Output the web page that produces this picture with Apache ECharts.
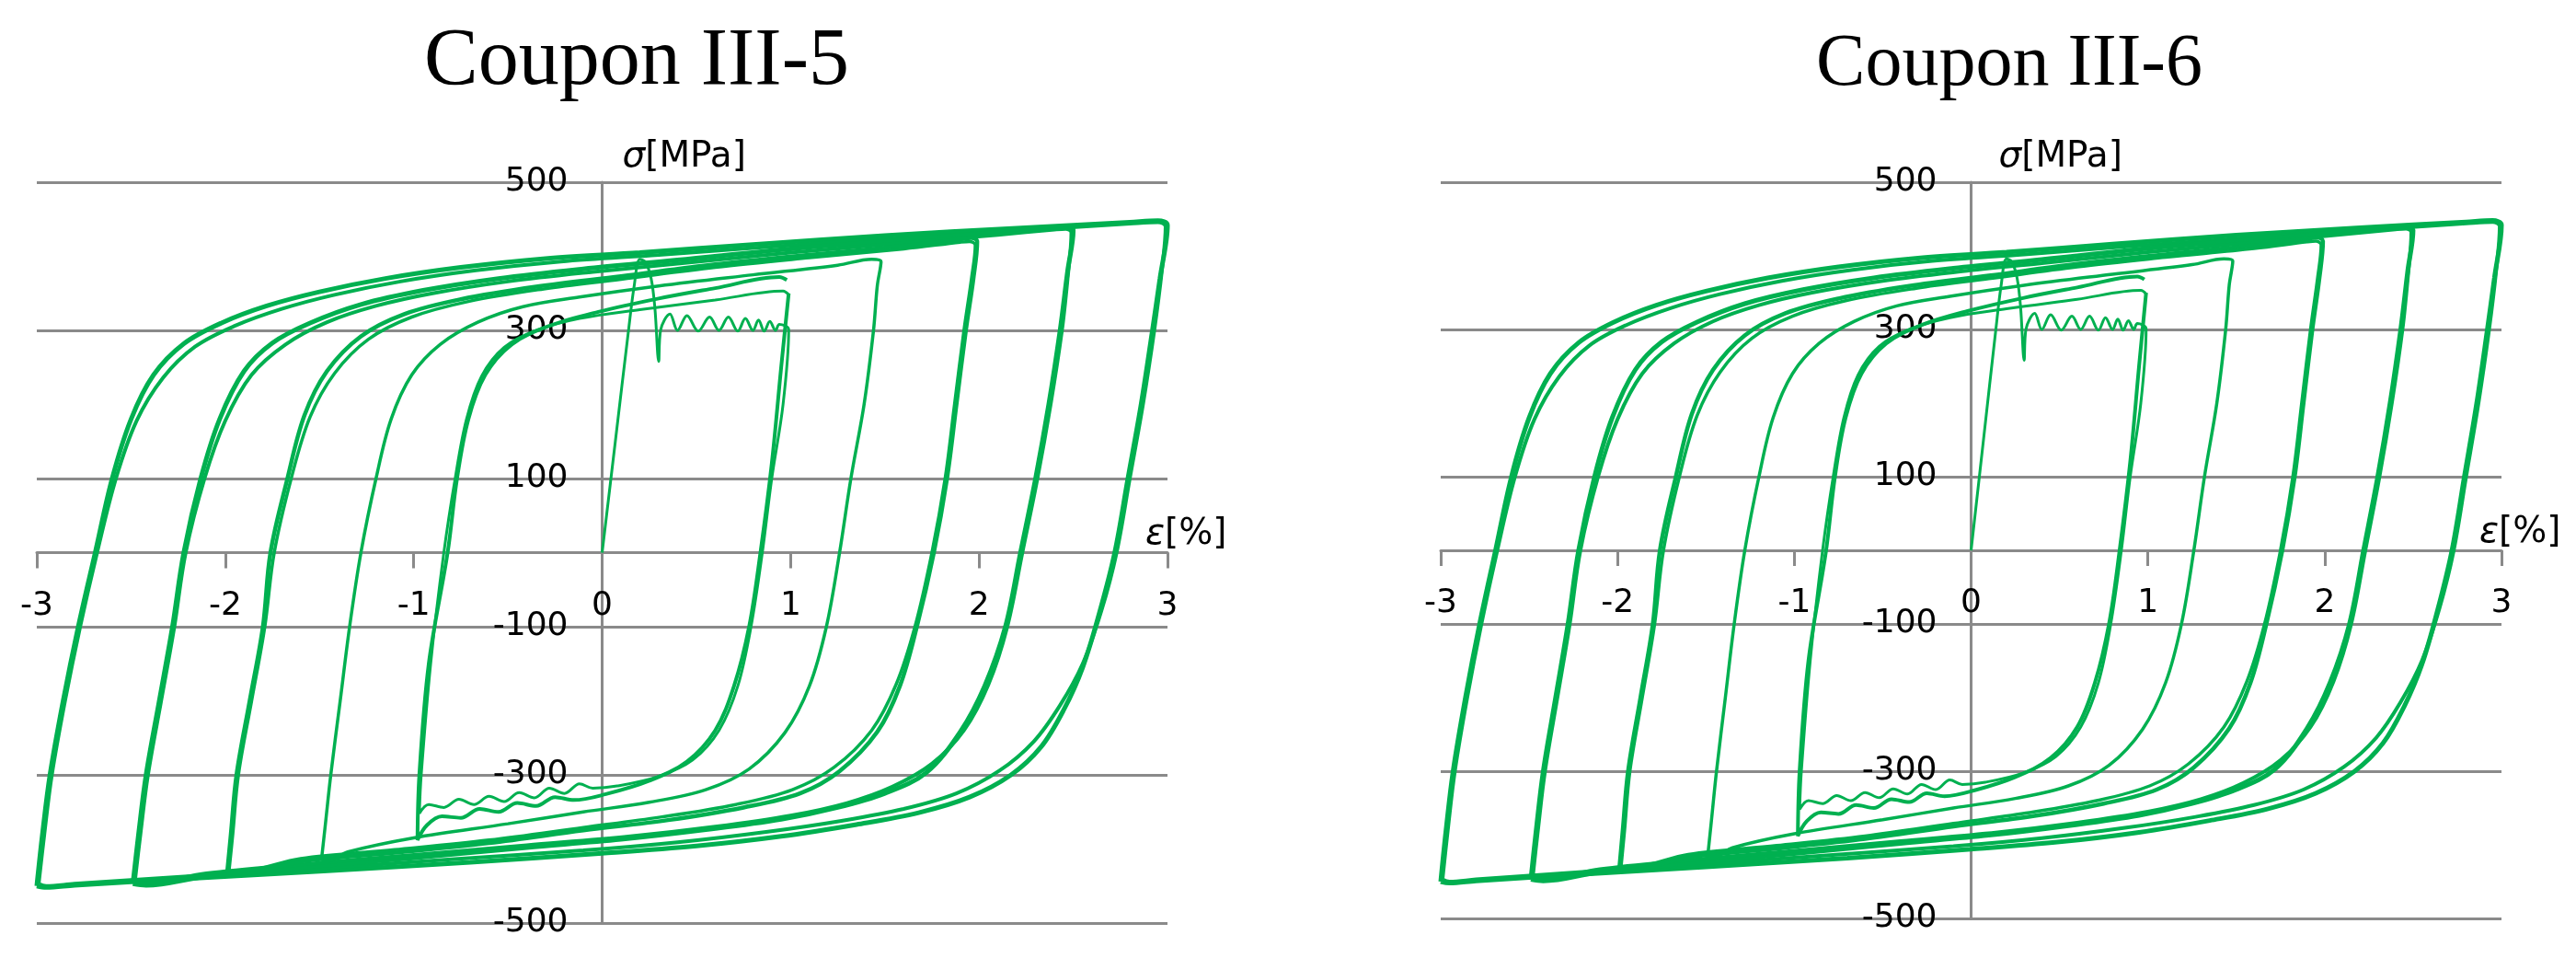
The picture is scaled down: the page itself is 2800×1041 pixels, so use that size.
<!DOCTYPE html>
<html>
<head>
<meta charset="utf-8">
<title>Coupon III-5 / III-6</title>
<script src="https://cdn.jsdelivr.net/npm/echarts@6/dist/echarts.min.js"></script>
<style>
  html, body { margin: 0; padding: 0; background: #fff; }
  #chart { width: 2800px; height: 1041px; }
</style>
</head>
<body>
<div id="chart"></div>
<script>
// strain [%] / stress [MPa] pairs
const titles = ['Coupon III-5', 'Coupon III-6']
const xTicks = [-3, -2, -1, 0, 1, 2, 3]
const yTicks = [-500, -300, -100, 100, 300, 500]

// +-3 % cycles
const loop3 = [[-3.00,-450],[-2.97,-380],[-2.93,-300],[-2.86,-200],[-2.78,-100],[-2.69,0],[-2.60,100],[-2.50,180],
  [-2.38,240],[-2.22,282],[-2.02,310],[-1.78,333],[-1.50,352],[-1.15,370],[-0.75,385],[-0.30,397],[0.2,405],
  [0.8,416],[1.5,428],[2.2,438],[2.80,446],[2.95,448],[3.00,442],[2.96,370],[2.92,300],[2.86,200],[2.79,100],
  [2.72,0],[2.64,-80],[2.55,-155],[2.45,-212],[2.33,-262],[2.17,-300],[1.95,-330],[1.68,-351],[1.35,-367],
  [0.95,-383],[0.50,-396],[0,-406],[-0.7,-418],[-1.5,-430],[-2.2,-440],[-2.80,-449],[-2.95,-452],[-3.00,-450]]
const loop3b = [[-2.99,-447],[-2.96,-380],[-2.92,-300],[-2.85,-200],[-2.77,-100],[-2.68,0],[-2.58,100],[-2.47,178],
  [-2.33,236],[-2.16,278],[-1.95,306],[-1.70,329],[-1.42,348],[-1.07,366],[-0.67,381],[-0.22,393],[0.3,402],
  [0.9,413],[1.6,425],[2.3,436],[2.80,444],[2.95,446],[2.99,440],[2.97,380],[2.93,300],[2.87,200],[2.80,100],
  [2.73,0],[2.65,-78],[2.55,-150],[2.43,-206],[2.29,-255],[2.11,-294],[1.88,-325],[1.60,-346],[1.27,-362],
  [0.87,-377],[0.40,-391],[-0.1,-402],[-0.8,-414],[-1.5,-426],[-2.2,-437],[-2.80,-447],[-2.95,-450],[-2.99,-447]]

// +-2.5 % cycles
const loop25 = [[-2.49,-447],[-2.46,-380],[-2.42,-300],[-2.35,-200],[-2.28,-100],[-2.22,0],[-2.13,100],[-2.03,180],
  [-1.90,245],[-1.75,283],[-1.55,310],[-1.28,335],[-0.95,354],[-0.55,370],[-0.10,383],[0.4,395],[1.0,410],
  [1.6,422],[2.1,432],[2.40,439],[2.47,440],[2.50,435],[2.47,380],[2.43,300],[2.37,200],[2.30,100],[2.22,0],
  [2.14,-100],[2.03,-180],[1.90,-242],[1.72,-297],[1.50,-325],[1.25,-344],[0.95,-360],[0.55,-374],[0.10,-387],
  [-0.4,-398],[-1.0,-412],[-1.6,-425],[-2.1,-437],[-2.42,-449],[-2.49,-447]]
const loop25b = [[-2.48,-445],[-2.45,-380],[-2.41,-300],[-2.34,-200],[-2.27,-100],[-2.21,0],[-2.11,100],[-2.00,178],
  [-1.86,240],[-1.68,281],[-1.46,311],[-1.20,333],[-0.90,350],[-0.50,366],[-0.05,379],[0.4,390],[1.0,405],
  [1.6,418],[2.1,429],[2.40,436],[2.46,437],[2.49,432],[2.47,370],[2.44,300],[2.38,200],[2.31,100],[2.23,0],
  [2.15,-100],[2.05,-178],[1.92,-240],[1.75,-285],[1.54,-316],[1.30,-338],[1.00,-355],[0.60,-370],[0.15,-383],
  [-0.4,-395],[-1.0,-408],[-1.6,-421],[-2.1,-433],[-2.42,-446],[-2.48,-445]]

// +-2 % cycles
const loop2 = [[-1.99,-433],[-1.97,-380],[-1.94,-300],[-1.87,-200],[-1.80,-100],[-1.76,0],[-1.67,100],[-1.58,185],
  [-1.46,245],[-1.28,292],[-1.05,322],[-0.75,342],[-0.35,359],[0.1,373],[0.6,389],[1.1,402],[1.6,414],[1.90,423],
  [1.96,425],[1.99,420],[1.97,370],[1.93,300],[1.88,200],[1.83,100],[1.76,0],[1.67,-100],[1.58,-180],[1.46,-242],
  [1.26,-295],[1.05,-325],[0.75,-344],[0.35,-361],[-0.1,-375],[-0.6,-392],[-1.1,-405],[-1.6,-417],[-1.92,-433],
  [-1.99,-433]]
const loop2b = [[-1.98,-430],[-1.96,-380],[-1.93,-300],[-1.86,-200],[-1.79,-100],[-1.74,0],[-1.65,100],[-1.55,183],
  [-1.42,242],[-1.24,288],[-1.01,318],[-0.71,339],[-0.31,356],[0.1,369],[0.6,385],[1.1,398],[1.6,410],[1.90,419],
  [1.95,420],[1.98,415],[1.96,370],[1.92,300],[1.87,200],[1.82,100],[1.75,0],[1.66,-100],[1.56,-178],[1.43,-240],
  [1.23,-290],[1.01,-320],[0.71,-340],[0.31,-357],[-0.1,-371],[-0.6,-388],[-1.1,-401],[-1.6,-413],[-1.92,-430],
  [-1.98,-430]]

// +-1.5 % cycle
const loop15 = [[-1.49,-416],[-1.47,-370],[-1.44,-300],[-1.39,-200],[-1.34,-100],[-1.28,0],[-1.20,100],[-1.12,180],
  [-1.01,240],[-0.86,281],[-0.66,311],[-0.42,332],[-0.12,345],[0.3,360],[0.8,375],[1.25,388],[1.43,396],[1.48,393],
  [1.46,360],[1.44,300],[1.39,200],[1.32,100],[1.26,0],[1.19,-100],[1.10,-180],[0.97,-243],[0.78,-292],[0.55,-320],
  [0.25,-337],[-0.1,-350],[-0.5,-366],[-1.0,-385],[-1.35,-404],[-1.45,-416],[-1.49,-416]]

// first loading with yield plateau, then first +-1 % cycle
const loop1a = [[0,0],[0.07,150],[0.14,300],[0.17,360],[0.20,396],[0.23,392],[0.26,370],[0.28,330],[0.30,258],
  [0.31,300],[0.36,322],[0.40,300],[0.45,320],[0.51,299],[0.57,318],[0.62,300],[0.67,318],[0.72,299],[0.76,316],
  [0.80,300],[0.83,314],[0.86,299],[0.89,312],[0.92,300],[0.94,308],[0.99,301],[0.96,200],[0.90,100],[0.85,0],
  [0.79,-100],[0.72,-180],[0.62,-240],[0.48,-280],[0.30,-302],[0.08,-315],[-0.05,-318],[-0.12,-312],[-0.20,-325],
  [-0.28,-318],[-0.36,-331],[-0.44,-324],[-0.52,-336],[-0.60,-329],[-0.68,-340],[-0.76,-333],[-0.84,-344],
  [-0.92,-340],[-0.97,-352],[-0.96,-300],[-0.91,-150],[-0.84,0],[-0.78,100],[-0.72,180],[-0.64,238],[-0.52,277],
  [-0.35,300],[-0.12,316],[0.2,328],[0.6,341],[0.96,353],[0.99,348]]

// second +-1 % cycle
const loop1b = [[0.99,350],[0.95,250],[0.90,120],[0.84,0],[0.78,-100],[0.70,-180],[0.60,-240],[0.45,-282],
  [0.25,-308],[0.02,-326],[-0.15,-334],[-0.25,-330],[-0.35,-342],[-0.45,-338],[-0.55,-350],[-0.65,-346],
  [-0.75,-358],[-0.85,-356],[-0.93,-368],[-0.98,-388],[-0.97,-300],[-0.92,-150],[-0.82,0],[-0.77,100],[-0.71,180],
  [-0.62,240],[-0.48,281],[-0.28,306],[-0.02,325],[0.3,343],[0.6,357],[0.94,372],[0.98,368]]

const loops = [loop3, loop3b, loop25, loop25b, loop2, loop2b, loop15, loop1a, loop1b]
const loopWidth = [5, 4, 5, 4, 4.5, 3.5, 3.5, 3, 4]

const gray = '#8a8a8a'
const green = '#00b050'
const labelFont = 'DejaVu Sans'

const grids = [
  { left: 40, top: 198, width: 1229, height: 805 },
  { left: 1566, top: 198, width: 1153, height: 800 }
]
const titleCenter = [692, 2184]
const titleSize = [88, 80]
const titleTop = [19, 26]
const nameShift = [22, 30]

let chart = echarts.init(document.getElementById('chart'))

let rich = {
  g: { fontStyle: 'italic', fontSize: 39, fontFamily: labelFont, color: '#000' },
  t: { fontSize: 39, fontFamily: labelFont, color: '#000' }
}

let xAxes = [], yAxes = [], series = [], titleOpts = []
grids.forEach((g, i) => {
  titleOpts.push({
    text: titles[i],
    left: titleCenter[i] - 5,
    top: titleTop[i],
    textAlign: 'center',
    textStyle: { fontFamily: 'Liberation Serif', fontSize: titleSize[i], fontWeight: 'normal', color: '#000' }
  })
  // axes cross at (0,0), the middle of each symmetric plot
  xAxes.push({
    type: 'value', gridIndex: i, min: xTicks[0], max: xTicks[xTicks.length - 1], interval: 1,
    position: 'bottom', offset: -g.height / 2,
    axisLine: { onZero: false, lineStyle: { color: gray, width: 3 } },
    axisTick: { show: true, length: 17, lineStyle: { color: gray, width: 3 } },
    axisLabel: { margin: 40, fontSize: 36, fontFamily: labelFont, color: '#000' },
    splitLine: { show: false },
    name: '{g|ε}{t|[%]}', nameLocation: 'end', nameGap: -24, nameMoveOverlap: false,
    nameTextStyle: { align: 'left', verticalAlign: 'bottom', rich: rich }
  })
  yAxes.push({
    type: 'value', gridIndex: i, min: yTicks[0], max: yTicks[yTicks.length - 1], interval: 200,
    position: 'left', offset: -g.width / 2,
    axisLine: { show: true, onZero: false, lineStyle: { color: gray, width: 3 } },
    axisTick: { show: false },
    axisLabel: { margin: 37, fontSize: 36, fontFamily: labelFont, color: '#000' },
    splitLine: { show: true, lineStyle: { color: gray, width: 3 } },
    name: '{g|σ}{t|[MPa]}', nameLocation: 'end', nameGap: 8, nameMoveOverlap: false,
    nameTextStyle: { align: 'left', padding: [0, 0, 0, nameShift[i]], rich: rich }
  })
  loops.forEach((d, k) => {
    series.push({
      type: 'line', xAxisIndex: i, yAxisIndex: i, data: d,
      showSymbol: false, smooth: 0.35, clip: false, silent: true,
      lineStyle: { color: green, width: loopWidth[k] }
    })
  })
})

let option = {
  animation: false,
  backgroundColor: '#fff',
  title: titleOpts,
  grid: grids.map(g => Object.assign({ outerBoundsMode: 'none' }, g)),
  xAxis: xAxes,
  yAxis: yAxes,
  series: series
}
chart.setOption(option)
</script>
</body>
</html>
